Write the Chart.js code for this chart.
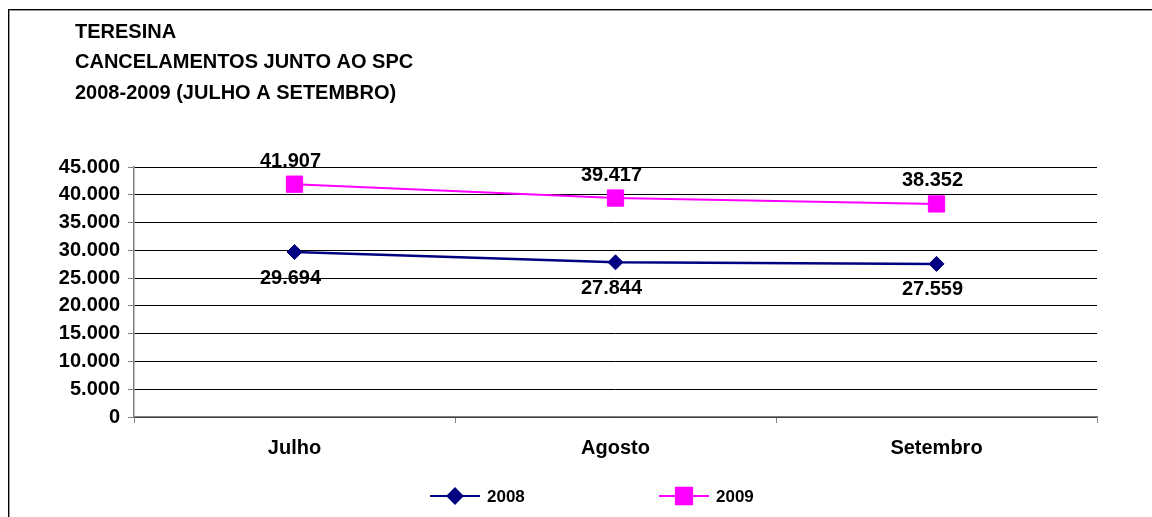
<!DOCTYPE html>
<html>
<head>
<meta charset="utf-8">
<title>Teresina - Cancelamentos junto ao SPC</title>
<script src="https://cdn.jsdelivr.net/npm/chart.js@4/dist/chart.umd.min.js"></script>
<style>
  html, body { margin: 0; padding: 0; background: #fff; }
  #wrap { width: 1152px; height: 517px; }
</style>
</head>
<body>
<div id="wrap"><canvas id="c" width="1152" height="517"></canvas></div>
<script>
// Chart data
const titleLines = ['TERESINA', 'CANCELAMENTOS JUNTO AO SPC', '2008-2009 (JULHO A SETEMBRO)'];
const months = ['Julho', 'Agosto', 'Setembro'];
const values2008 = [29694, 27844, 27559];
const values2009 = [41907, 39417, 38352];
const seriesNames = ['2008', '2009'];
const yMin = 0;
const yMax = 45000;
const yStep = 5000;

const FONT = "'Liberation Sans', Arial, Helvetica, sans-serif";
const NAVY = '#000080';
const MAGENTA = '#FF00FF';

// Brazilian thousands separator: 41907 -> "41.907"
function fmt(v) {
  return String(Math.round(v)).replace(/\B(?=(\d{3})+(?!\d))/g, '.');
}

// Frame around the whole figure and the three-line heading
const framePlugin = {
  id: 'frame',
  beforeDraw(chart) {
    const ctx = chart.ctx;
    ctx.save();
    ctx.fillStyle = '#fff';
    ctx.fillRect(0, 0, chart.width, chart.height);
    ctx.fillStyle = '#000';
    ctx.fillRect(8, 9, chart.width - 8, 1);
    ctx.fillRect(8, 9, 1, chart.height - 9);
    ctx.fillStyle = '#9a9a9a';
    ctx.fillRect(9, 10, chart.width - 9, 1);
    ctx.fillRect(9, 10, 1, chart.height - 10);
    ctx.fillStyle = '#000';
    ctx.font = 'bold 20px ' + FONT;
    ctx.textAlign = 'left';
    ctx.textBaseline = 'middle';
    const ys = [32, 62, 93];
    titleLines.forEach((t, i) => ctx.fillText(t, 75, ys[i]));
    ctx.restore();
  }
};

// Value labels: 2009 above its markers, 2008 below
const valueLabels = {
  id: 'valueLabels',
  afterDatasetsDraw(chart) {
    const ctx = chart.ctx;
    ctx.save();
    ctx.font = 'bold 20px ' + FONT;
    ctx.fillStyle = '#000';
    ctx.textAlign = 'center';
    ctx.textBaseline = 'middle';
    chart.data.datasets.forEach((ds, di) => {
      const meta = chart.getDatasetMeta(di);
      const dy = ds.labelAbove ? -23 : 26;
      meta.data.forEach((pt, i) => {
        ctx.fillText(fmt(ds.data[i]), pt.x - 4, pt.y + dy);
      });
    });
    ctx.restore();
  }
};

// Bottom legend: line sample with marker, then series name
const lineLegend = {
  id: 'lineLegend',
  afterDraw(chart) {
    const ctx = chart.ctx;
    const starts = [430, 659];
    const y = 496;
    ctx.save();
    chart.data.datasets.forEach((ds, di) => {
      const x0 = starts[di];
      ctx.strokeStyle = ds.borderColor;
      ctx.lineWidth = 2;
      ctx.beginPath();
      ctx.moveTo(x0, y);
      ctx.lineTo(x0 + 50, y);
      ctx.stroke();
      ctx.fillStyle = ds.pointBackgroundColor;
      ctx.strokeStyle = ds.pointBorderColor;
      Chart.helpers.drawPoint(ctx, {
        pointStyle: ds.pointStyle,
        radius: ds.pointRadius,
        rotation: 0,
        borderWidth: 1
      }, x0 + 25, y);
      ctx.fillStyle = '#000';
      ctx.font = 'bold 17px ' + FONT;
      ctx.textAlign = 'left';
      ctx.textBaseline = 'middle';
      ctx.fillText(ds.label, x0 + 57, y + 1);
    });
    ctx.restore();
  }
};

new Chart(document.getElementById('c'), {
  type: 'line',
  data: {
    labels: months,
    datasets: [
      {
        label: seriesNames[0],
        data: values2008,
        borderColor: NAVY,
        backgroundColor: NAVY,
        borderWidth: 2.5,
        pointStyle: 'rectRot',
        pointRadius: 7.5,
        pointHoverRadius: 7.5,
        pointBackgroundColor: NAVY,
        pointBorderColor: NAVY,
        pointBorderWidth: 1,
        tension: 0,
        labelAbove: false
      },
      {
        label: seriesNames[1],
        data: values2009,
        borderColor: MAGENTA,
        backgroundColor: MAGENTA,
        borderWidth: 2,
        pointStyle: 'rect',
        pointRadius: 11.5,
        pointHoverRadius: 11.5,
        pointBackgroundColor: MAGENTA,
        pointBorderColor: MAGENTA,
        pointBorderWidth: 1,
        tension: 0,
        labelAbove: true
      }
    ]
  },
  options: {
    responsive: false,
    animation: false,
    events: [],
    layout: { padding: { left: 0, right: 55, top: 167, bottom: 50 } },
    plugins: {
      legend: { display: false },
      title: { display: false },
      tooltip: { enabled: false }
    },
    scales: {
      x: {
        offset: true,
        afterFit(scale) { scale.height = 50; },
        grid: {
          offset: true,
          drawOnChartArea: false,
          drawTicks: true,
          tickLength: 6,
          tickColor: '#808080'
        },
        border: { display: true, color: '#808080', width: 1.5 },
        ticks: {
          color: '#000',
          padding: 13,
          font: { family: FONT, size: 20, weight: 'bold' }
        }
      },
      y: {
        min: yMin,
        max: yMax,
        afterFit(scale) { scale.width = 134; },
        grid: {
          color: '#000',
          lineWidth: 1,
          drawTicks: true,
          tickLength: 6,
          tickColor: '#808080'
        },
        border: { display: true, color: '#808080', width: 1.5 },
        ticks: {
          stepSize: yStep,
          color: '#000',
          padding: 8,
          font: { family: FONT, size: 20, weight: 'bold' },
          callback: (v) => fmt(v)
        }
      }
    }
  },
  plugins: [framePlugin, valueLabels, lineLegend]
});
</script>
</body>
</html>
